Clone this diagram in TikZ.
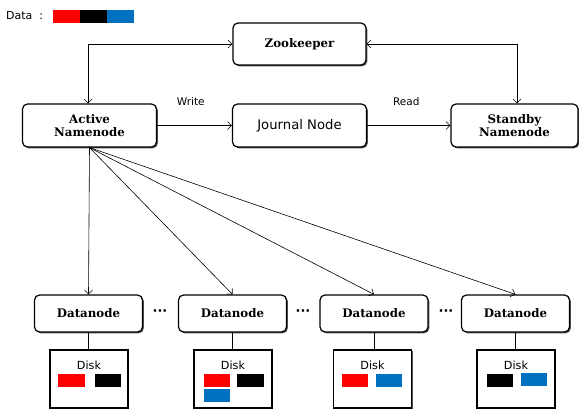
\documentclass[tikz,border=0pt]{standalone}
\usepackage{fontspec}
\setmainfont{DejaVu Serif}
\setsansfont{DejaVu Sans}
\usetikzlibrary{arrows.meta,shadows}
\definecolor{dred}{RGB}{255,0,0}
\definecolor{dblue}{RGB}{0,112,192}
\tikzset{
  box/.style={draw, line width=1.2pt, rounded corners=5pt, fill=white,
    drop shadow={shadow xshift=1.3pt, shadow yshift=-1.3pt, opacity=0.9, fill=black!75},
    align=center, inner sep=0pt, font=\fontsize{11.8}{13.5}\selectfont\bfseries},
  disk/.style={draw, line width=1.2pt, fill=white, minimum width=78pt, minimum height=58pt, inner sep=0pt,
    drop shadow={shadow xshift=1pt, shadow yshift=-1pt, opacity=0.9, fill=black!75}},
  lbl/.style={font=\sffamily\fontsize{10.5}{12}\selectfont},
  arr/.style={-{Straight Barb[length=4pt,width=8pt]}, line width=0.6pt},
  dotsn/.style={font=\sffamily\bfseries\fontsize{13}{13}\selectfont, inner sep=0pt},
}
\begin{document}
\begin{tikzpicture}[x=1pt,y=-1pt]
\useasboundingbox (0,0) rectangle (579,409);
% legend
\node[font=\sffamily\fontsize{11}{12}\selectfont, anchor=west, inner sep=0pt] (data) at (6,16) {Data~~:};
\fill[dred] (53,10) rectangle (80,23);
\fill[black] (80,10) rectangle (107,23);
\fill[dblue] (107,10) rectangle (134,23);
% main nodes
\node[box, minimum width=133pt, minimum height=42pt] (zk) at (299.5,44) {Zookeeper};
\node[box, minimum width=134pt, minimum height=43pt] (an) at (89.5,125.5) {Active\\Namenode};
\node[box, minimum width=134pt, minimum height=43pt, font=\sffamily\fontsize{13.2}{15}\selectfont] (jn) at (299.5,125.5) {Journal Node};
\node[box, minimum width=127pt, minimum height=43pt] (sn) at (514.5,125.5) {Standby\\Namenode};
% datanodes
\foreach \i/\x in {1/88.5,2/232.5,3/374,4/515.5}{
  \node[box, minimum width=108pt, minimum height=37pt] (dn\i) at (\x,313.5) {Datanode};
}
\foreach \i/\x in {1/89,2/233,3/372.5,4/516}{
  \node[disk] (dk\i) at (\x,379) {};
  \node[font=\sffamily\fontsize{11.2}{12}\selectfont, inner sep=0pt] (dt\i) at (\x,365) {Disk};
}
\node[dotsn] (dots1) at (160,313) {···};
\node[dotsn] (dots2) at (303,313) {···};
\node[dotsn] (dots3) at (446,313) {···};
% disk contents
\fill[dred] (58,374) rectangle (85,387);
\fill[black] (95,374) rectangle (121,387);
\fill[dred] (204,374) rectangle (230,387);
\fill[black] (237,374) rectangle (264,387);
\fill[dblue] (204,389) rectangle (230,402);
\fill[dred] (342,374) rectangle (368,387);
\fill[dblue] (376,374) rectangle (402,387);
\fill[black] (487,374) rectangle (513,387);
\fill[dblue] (521,373) rectangle (547,386);
% connectors
\coordinate (zl) at (88,44);
\coordinate (zr) at (517,44);
\draw[arr] (zl) -- (zk.west);
\draw[arr] (zl) -- (an.north -| zl);
\draw[arr] (zr) -- (zk.east);
\draw[arr] (zr) -- (sn.north -| zr);
\draw[arr] (an) -- (jn) node[lbl, pos=0.45, above=20pt, inner sep=0pt] (wr) {Write};
\draw[arr] (jn) -- (sn) node[lbl, pos=0.47, above=20pt, inner sep=0pt] (rd) {Read};
\draw[arr] (an.south) -- (dn1.north);
\draw[arr] (an.south) -- (dn2.north);
\draw[arr] (an.south) -- (dn3.north);
\draw[arr] (an.south) -- (dn4.north);
\foreach \i in {1,2,3,4}{
  \draw[line width=0.6pt] (dn\i.south) -- (dk\i.north -| dn\i.south);
}
\end{tikzpicture}
\end{document}
